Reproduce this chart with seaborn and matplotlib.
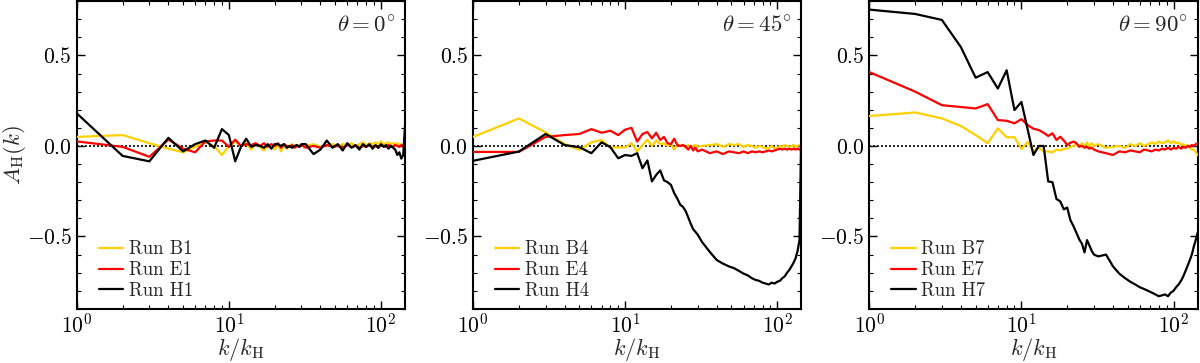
import numpy as np
import pandas as pd
import matplotlib
matplotlib.use("Agg")
import matplotlib.pyplot as plt
from matplotlib.ticker import MultipleLocator, LogLocator, NullFormatter
import seaborn as sns

# ---------------- data ----------------
K = list(range(1, 31)) + list(range(32, 145, 4))

B1 = [0.05, 0.06, 0.015, -0.015, -0.035, -0.005, 0.02, 0.0, -0.05, 0.0,
      0.025, 0.0, 0.015, -0.02, 0.01, -0.005, -0.025, 0.005, 0.0, -0.02,
      0.01, -0.03, 0.005, -0.015, 0.0, 0.01, -0.01, 0.005, 0.0, 0.005,
      0.0, 0.01, -0.005, 0.005, 0.01, 0.0, 0.01, 0.005, 0.015, 0.0,
      0.01, 0.02, 0.005, 0.015, 0.01, 0.02, 0.01, 0.025, 0.01, 0.015,
      0.02, 0.01, 0.015, 0.01, 0.015, 0.005, 0.01, 0.005, 0.0]
E1 = [0.025, -0.005, -0.06, 0.035, -0.015, -0.035, 0.025, 0.03, 0.03, -0.005,
      0.035, 0.0, 0.01, 0.005, 0.015, 0.0, 0.015, -0.005, 0.01, 0.0,
      0.015, -0.01, 0.01, 0.0, -0.005, 0.005, -0.01, 0.0, -0.005, 0.005,
      -0.01, 0.0, -0.01, 0.005, -0.005, 0.0, -0.01, 0.005, -0.005, 0.0,
      -0.01, 0.0, -0.005, 0.005, -0.005, 0.0, -0.01, 0.005, 0.0, -0.005,
      0.005, 0.0, -0.005, 0.005, 0.0, -0.005, 0.005, 0.0, 0.005]
H1 = [0.18, -0.055, -0.085, 0.045, -0.03, 0.01, 0.03, -0.01, 0.093, 0.06,
      -0.085, -0.005, 0.04, -0.005, 0.005, 0.0, -0.01, 0.01, -0.015, 0.01,
      0.01, 0.0, 0.01, -0.01, 0.0, -0.01, 0.0, 0.005, -0.005, 0.01,
      0.01, -0.045, -0.02, 0.03, -0.01, 0.01, -0.025, 0.015, -0.01, 0.005,
      -0.02, 0.01, -0.005, 0.01, -0.015, 0.005, -0.01, 0.01, -0.005, 0.005,
      -0.015, 0.0, -0.01, -0.02, -0.05, -0.035, -0.07, -0.05, 0.12]

B4 = [0.05, 0.152, 0.075, 0.01, -0.022, 0.02, 0.033, -0.009, -0.008, -0.008,
      0.015, -0.03, 0.005, 0.035, 0.0, 0.03, 0.01, 0.015, 0.0, 0.01,
      -0.02, 0.01, 0.0, 0.005, -0.01, 0.005, -0.005, 0.0, 0.005, -0.005,
      0.0, 0.005, 0.01, -0.005, 0.01, 0.005, 0.01, -0.005, 0.005, 0.0,
      -0.01, 0.0, -0.005, -0.015, -0.01, 0.0, -0.015, -0.01, 0.0, -0.005,
      0.005, 0.0, -0.005, 0.0, 0.005, -0.005, 0.0, 0.005, 0.0]
E4 = [-0.033, -0.033, 0.05, 0.06, 0.066, 0.093, 0.073, 0.084, 0.06, 0.09,
      0.10, 0.024, 0.066, 0.077, 0.042, 0.073, 0.033, 0.05, 0.015, 0.01,
      0.04, 0.005, 0.0, 0.005, -0.005, -0.02, 0.0, -0.025, -0.01, -0.03,
      -0.02, -0.04, -0.03, -0.045, -0.03, -0.035, -0.04, -0.03, -0.04, -0.03,
      -0.035, -0.03, -0.035, -0.03, -0.025, -0.03, -0.025, -0.02, -0.015, -0.02,
      -0.015, -0.02, -0.015, -0.02, -0.015, -0.02, -0.015, -0.02, -0.02]
H4 = [-0.082, -0.031, 0.066, 0.005, -0.007, -0.04, 0.02, -0.007, -0.068, -0.05,
      -0.055, -0.04, -0.123, -0.08, -0.196, -0.16, -0.135, -0.19, -0.2, -0.215,
      -0.26, -0.29, -0.324, -0.337, -0.36, -0.395, -0.43, -0.46, -0.475, -0.49,
      -0.53, -0.585, -0.63, -0.65, -0.665, -0.675, -0.69, -0.705, -0.715, -0.73,
      -0.74, -0.745, -0.755, -0.76, -0.765, -0.755, -0.76, -0.75, -0.745, -0.73,
      -0.72, -0.70, -0.685, -0.665, -0.645, -0.62, -0.58, -0.52, 0.1]

B7 = [0.165, 0.185, 0.152, 0.11, 0.06, 0.015, 0.097, 0.048, 0.048, -0.016,
      0.022, -0.03, -0.01, -0.03, -0.03, -0.035, -0.02, -0.025, -0.015, -0.015,
      -0.005, 0.0, 0.01, -0.005, 0.015, 0.0, 0.02, -0.005, 0.015, 0.0,
      0.01, -0.01, -0.005, 0.0, -0.01, 0.01, 0.0, 0.015, 0.0, 0.01,
      0.02, 0.01, 0.025, 0.015, 0.02, 0.03, 0.015, 0.025, 0.015, 0.02,
      0.005, 0.01, 0.0, 0.005, -0.01, -0.02, -0.02, -0.035, -0.05]
E7 = [0.408, 0.3, 0.225, 0.215, 0.207, 0.231, 0.143, 0.139, 0.125, 0.148,
      0.115, 0.095, 0.088, 0.073, 0.055, 0.07, 0.033, 0.051, 0.03, 0.005,
      0.018, 0.024, 0.015, -0.004, 0.0, -0.01, -0.005, -0.015, -0.01, -0.02,
      -0.03, -0.04, -0.05, -0.03, -0.035, -0.025, -0.03, -0.035, -0.02, -0.025,
      -0.03, -0.02, -0.025, -0.015, -0.02, -0.01, -0.02, -0.01, -0.015, -0.005,
      -0.015, -0.005, -0.01, 0.0, -0.005, 0.005, 0.0, 0.01, 0.015]
H7 = [0.753, 0.729, 0.696, 0.546, 0.377, 0.408, 0.317, 0.418, 0.198, 0.243,
      0.09, -0.05, 0.0, 0.0, -0.196, -0.2, -0.293, -0.306, -0.35, -0.34,
      -0.41, -0.443, -0.48, -0.516, -0.54, -0.588, -0.52, -0.55, -0.58, -0.6,
      -0.61, -0.6, -0.665, -0.705, -0.73, -0.75, -0.765, -0.78, -0.79, -0.80,
      -0.81, -0.82, -0.83, -0.825, -0.82, -0.83, -0.81, -0.8, -0.78, -0.765,
      -0.745, -0.72, -0.69, -0.66, -0.63, -0.6, -0.555, -0.52, -0.48]

PANELS = [
    (r"$\theta = 0^{\circ}$", [("Run B1", B1), ("Run E1", E1), ("Run H1", H1)]),
    (r"$\theta = 45^{\circ}$", [("Run B4", B4), ("Run E4", E4), ("Run H4", H4)]),
    (r"$\theta = 90^{\circ}$", [("Run B7", B7), ("Run E7", E7), ("Run H7", H7)]),
]
COLORS = ["#FFD000", "#FF0000", "#000000"]

# ---------------- style ----------------
sns.set_style("ticks")
plt.rcParams.update({
    "font.family": "serif",
    "font.serif": ["cmr10", "DejaVu Serif"],
    "mathtext.fontset": "cm",
    "axes.formatter.use_mathtext": True,
    "axes.linewidth": 1.5,
    "xtick.direction": "in",
    "ytick.direction": "in",
    "xtick.top": True,
    "ytick.right": True,
    "xtick.major.size": 6,
    "ytick.major.size": 6,
    "xtick.minor.size": 3,
    "ytick.minor.size": 3,
    "xtick.major.width": 1.0,
    "ytick.major.width": 1.0,
    "xtick.minor.width": 0.8,
    "ytick.minor.width": 0.8,
    "xtick.color": "black",
    "ytick.color": "black",
    "axes.edgecolor": "black",
})

fig, axes = plt.subplots(1, 3, figsize=(12, 3.63), dpi=100)
fig.subplots_adjust(left=0.064, right=0.998, bottom=0.149, top=0.997, wspace=0.207)

for ax, (title, series) in zip(axes, PANELS):
    ax.axhline(0.0, color="black", linestyle=(0, (1.2, 1.2)), linewidth=1.2, zorder=1)
    for (label, vals), col in zip(series, COLORS):
        df = pd.DataFrame({"k": K, "A": vals})
        sns.lineplot(data=df, x="k", y="A", ax=ax, color=col, linewidth=1.6,
                     label=label, estimator=None, sort=False, zorder=3)
    ax.set_xscale("log")
    ax.set_xlim(1, 144)
    ax.set_ylim(-0.9, 0.8)
    ax.yaxis.set_major_locator(MultipleLocator(0.5))
    ax.yaxis.set_minor_locator(MultipleLocator(0.1))
    ax.xaxis.set_minor_locator(LogLocator(base=10, subs=np.arange(2, 10)))
    ax.xaxis.set_minor_formatter(NullFormatter())
    ax.tick_params(axis="y", which="major", labelsize=15.5, pad=3.5)
    ax.tick_params(axis="x", which="major", labelsize=15.5, pad=2.5)
    ax.set_xlabel(r"$k/k_{\rm H}$", fontsize=16)
    ax.xaxis.set_label_coords(0.5, -0.088)
    ax.set_ylabel("")
    ax.text(0.97, 0.92, title, transform=ax.transAxes, ha="right", va="center",
            fontsize=16.5)
    ax.legend(loc="lower left", bbox_to_anchor=(0.044, 0.005), frameon=False,
              fontsize=13.5, handlelength=1.3, handletextpad=0.3,
              labelspacing=0.15, borderaxespad=0.0)
    for sp in ax.spines.values():
        sp.set_visible(True)
        sp.set_linewidth(1.5)

axes[0].set_ylabel(r"$A_{\rm H}(k)$", fontsize=16.5)
axes[0].yaxis.set_label_coords(-0.15, 0.5)

fig.savefig("out.png", dpi=100)
